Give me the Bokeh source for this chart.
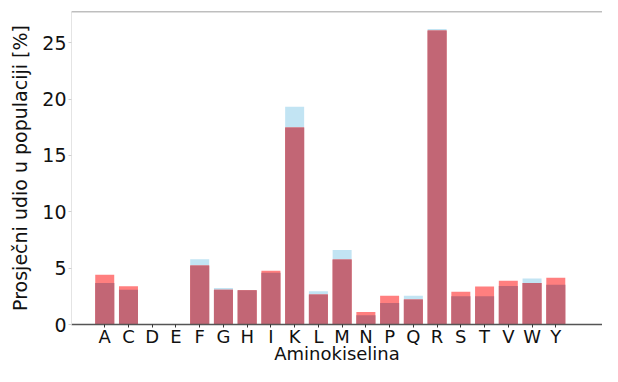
from bokeh.plotting import figure
from bokeh.models import Range1d, FixedTicker, Span, ColumnDataSource
from bokeh.embed import file_html
from bokeh.resources import INLINE

amino = ["A", "C", "D", "E", "F", "G", "H", "I", "K", "L",
         "M", "N", "P", "Q", "R", "S", "T", "V", "W", "Y"]
share_blue = [3.68, 3.09, 0, 0, 5.78, 3.23, 3.05, 4.60, 19.33, 2.95,
              6.60, 0.81, 1.91, 2.55, 26.22, 2.50, 2.50, 3.41, 4.09, 3.52]
share_red = [4.41, 3.40, 0, 0, 5.23, 3.09, 3.03, 4.77, 17.48, 2.66,
             5.76, 1.10, 2.55, 2.22, 26.08, 2.90, 3.38, 3.89, 3.69, 4.15]
y_ticks = [0, 5, 10, 15, 20, 25]

xs = list(range(len(amino)))
overlap = [min(b, r) for b, r in zip(share_blue, share_red)]
src = ColumnDataSource(dict(x=xs, blue=share_blue, red=share_red, both=overlap))

FONT = "DejaVu Sans"
FS = "19px"
FSX = "18px"
W, H = 602, 366
LEFT, TOP = 71, 11
frame_w = W - LEFT
x0 = -1.40
x1 = x0 + frame_w / 23.74

p = figure(width=W, height=H, output_backend="svg", toolbar_location=None,
           x_range=Range1d(x0, x1), y_range=Range1d(0, 27.77),
           min_border_left=LEFT, min_border_right=0, min_border_top=TOP,
           min_border_bottom=0)
p.outline_line_color = None
p.grid.visible = False
p.background_fill_color = "white"
p.border_fill_color = "white"

p.vbar(x="x", top="blue", width=0.8, source=src, fill_color="#c2e4f3", line_color=None)
p.vbar(x="x", top="red", width=0.8, source=src, fill_color="#ff7f7f", line_color=None)
p.vbar(x="x", top="both", width=0.8, source=src, fill_color="#c26675", line_color=None)

p.add_layout(Span(location=27.77, dimension="width", line_color="#7f7f7f", line_width=1.5))

xa = p.xaxis[0]
xa.ticker = FixedTicker(ticks=xs)
xa.major_label_overrides = {i: a for i, a in enumerate(amino)}
xa.axis_label = "Aminokiselina"
xa.axis_line_color = "#555555"
xa.axis_line_width = 1.5
xa.major_tick_line_color = "#333333"
xa.major_tick_out = 3
xa.major_tick_in = 0
xa.minor_tick_line_color = None
xa.major_label_standoff = -2
xa.axis_label_standoff = -7
xa.major_label_text_font = FONT
xa.major_label_text_font_size = FSX
xa.major_label_text_color = "#111111"
xa.axis_label_text_font = FONT
xa.axis_label_text_font_size = FSX
xa.axis_label_text_font_style = "normal"
xa.axis_label_text_color = "#111111"

ya = p.yaxis[0]
ya.ticker = FixedTicker(ticks=y_ticks)
ya.axis_label = "Prosječni udio u populaciji [%]"
ya.axis_line_color = "#e4e4e4"
ya.major_tick_line_color = "#d0d0d0"
ya.major_tick_out = 3
ya.major_tick_in = 0
ya.minor_tick_line_color = None
ya.major_label_standoff = 2
ya.axis_label_standoff = 8
ya.major_label_text_font = FONT
ya.major_label_text_font_size = FS
ya.major_label_text_color = "#111111"
ya.axis_label_text_font = FONT
ya.axis_label_text_font_size = FS
ya.axis_label_text_font_style = "normal"
ya.axis_label_text_color = "#111111"

open("out.html", "w").write(file_html(p, INLINE))
